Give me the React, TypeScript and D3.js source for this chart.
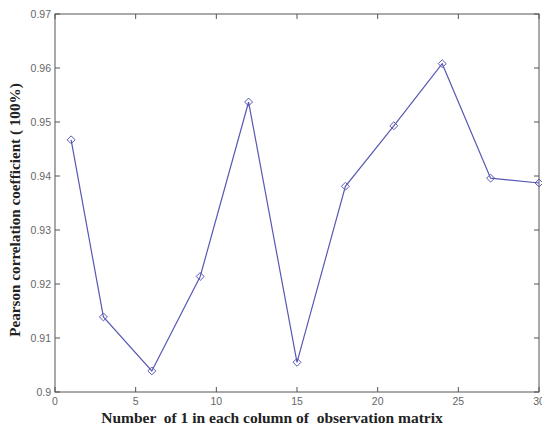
import React from 'react';
import * as d3 from 'd3';

// MATLAB-style line plot: Pearson correlation vs number of 1s per column.

const W = 542;
const H = 428;
const MARGIN = { top: 14, right: 3, bottom: 36, left: 55 };

const ones = [1, 3, 6, 9, 12, 15, 18, 21, 24, 27, 30];
const pearson = [0.9467, 0.9139, 0.9039, 0.9214, 0.9537, 0.9055, 0.9381, 0.9493, 0.9608, 0.9396, 0.9387];
const xTicks = [0, 5, 10, 15, 20, 25, 30];
const yTicks = [0.9, 0.91, 0.92, 0.93, 0.94, 0.95, 0.96, 0.97];

const LINE = '#5858b4';
const TICK_LEN = 5;

const App = () => {
  const innerW = W - MARGIN.left - MARGIN.right;
  const innerH = H - MARGIN.top - MARGIN.bottom;

  const x = d3.scaleLinear().domain([0, 30]).range([0, innerW]);
  const y = d3.scaleLinear().domain([0.9, 0.97]).range([innerH, 0]);

  const pts: [number, number][] = ones.map((v, i) => [x(v), y(pearson[i])]);
  const line = d3.line()(pts) || '';
  const diamond = d3.symbol().type(d3.symbolDiamond2).size(40)() || '';

  const tickFont = { fontFamily: 'Liberation Sans, Arial, sans-serif', fontSize: 10.5, fill: '#666' };
  const labelFont = { fontFamily: 'Liberation Serif, DejaVu Serif, serif', fontWeight: 'bold', fill: '#222' };

  return (
    <svg width={W} height={H} style={{ position: 'absolute', left: 0, top: 0, background: '#fff' }}>
      <g transform={`translate(${MARGIN.left},${MARGIN.top})`}>
        {/* frame */}
        <rect x={0} y={0} width={innerW} height={innerH} fill="none" stroke="#555" strokeWidth={1} />

        {/* x ticks, bottom and top, pointing inwards */}
        {xTicks.map(t => (
          <g key={'x' + t}>
            <line x1={x(t)} x2={x(t)} y1={innerH} y2={innerH - TICK_LEN} stroke="#555" />
            <line x1={x(t)} x2={x(t)} y1={0} y2={TICK_LEN} stroke="#555" />
            <text x={x(t)} y={innerH + 13} textAnchor="middle" {...tickFont}>{t}</text>
          </g>
        ))}

        {/* y ticks, left and right */}
        {yTicks.map(t => (
          <g key={'y' + t}>
            <line x1={0} x2={TICK_LEN} y1={y(t)} y2={y(t)} stroke="#555" />
            <line x1={innerW} x2={innerW - TICK_LEN} y1={y(t)} y2={y(t)} stroke="#555" />
            <text x={-4} y={y(t)} dy="0.35em" textAnchor="end" {...tickFont}>{d3.format('~g')(t)}</text>
          </g>
        ))}

        {/* data */}
        <path d={line} fill="none" stroke={LINE} strokeWidth={1.2} />
        {pts.map((p, i) => (
          <path key={i} d={diamond} transform={`translate(${p[0]},${p[1]})`} fill="none" stroke={LINE} strokeWidth={1} />
        ))}
      </g>

      <text x={272} y={423} textAnchor="middle" fontSize={15.5} style={{ whiteSpace: 'pre' }} {...labelFont}>
        {'Number  of 1 in each column of  observation matrix'}
      </text>
      <text
        transform={`translate(20,${MARGIN.top + innerH / 2 + 7}) rotate(-90)`}
        textAnchor="middle"
        fontSize={15.2}
        style={{ whiteSpace: 'pre' }}
        {...labelFont}
      >
        {'Pearson correlation coefficient ( 100%)'}
      </text>
    </svg>
  );
};

export default App;
